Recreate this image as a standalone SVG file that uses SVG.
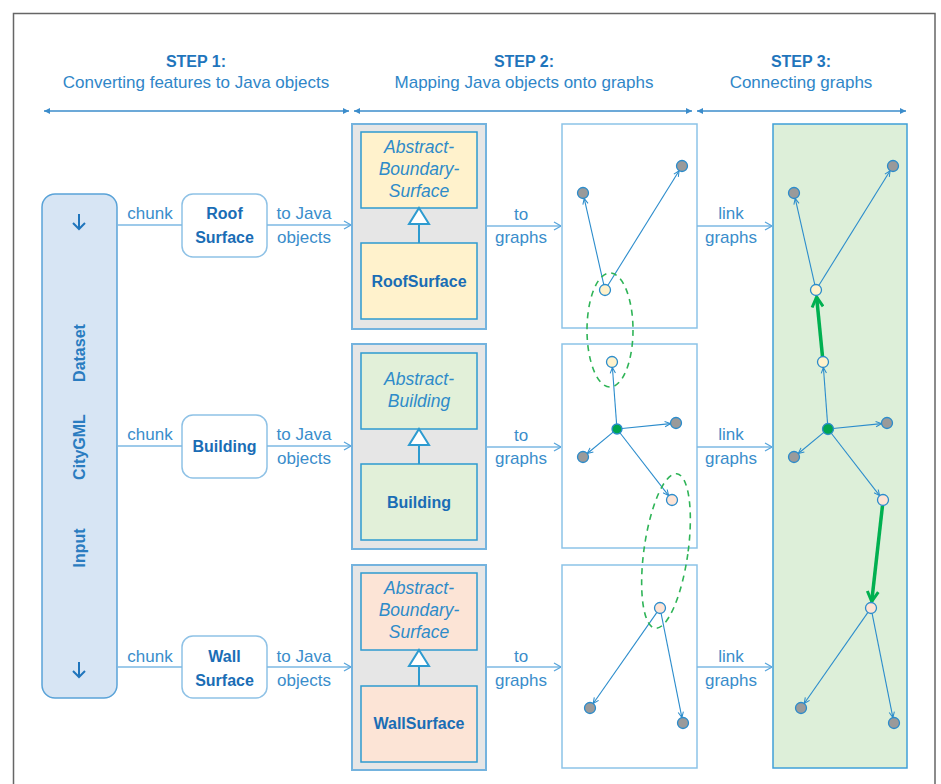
<svg xmlns="http://www.w3.org/2000/svg" width="941" height="784" viewBox="0 0 941 784">
  <style>
    text { font-family: "Liberation Sans", Arial, sans-serif; }
    .step { font-size: 16px; font-weight: bold; fill: #1f75bc; text-anchor: middle; }
    .sub { font-size: 17px; fill: #2f86c8; text-anchor: middle; }
    .lbl { font-size: 17px; fill: #3a8dcb; text-anchor: middle; }
    .feat { font-size: 16px; font-weight: bold; fill: #1a6db5; text-anchor: middle; }
    .abs { font-size: 17.5px; font-style: italic; fill: #2e8bc9; text-anchor: middle; }
    .cls { font-size: 16px; font-weight: bold; fill: #1a6db5; text-anchor: middle; }
    .inp { font-size: 16px; font-weight: bold; fill: #2a7cc0; text-anchor: middle; }
    .hdr { stroke: #3b8ccb; stroke-width: 1.5; fill: none; }
    .flow { stroke: #7cb9e3; stroke-width: 1.5; fill: none; }
    .fbox { fill: #ffffff; stroke: #8fc2e6; stroke-width: 1.5; }
    .cont { fill: #e6e6e6; stroke: #74b3de; stroke-width: 2; }
    .inner { stroke: #2e9bd0; stroke-width: 1.5; }
    .panel { fill: #ffffff; stroke: #8cc3e8; stroke-width: 1.5; }
    .edge { stroke: #2b8ccc; stroke-width: 1.1; fill: none; }
    .n { stroke: #2b8ccc; stroke-width: 1.3; }
    .gray { fill: #9a9a9a; }
    .yel { fill: #fff2cc; }
    .pch { fill: #fde4d6; }
    .grn { fill: #00a550; }
    .ell { fill: none; stroke: #2fb457; stroke-width: 1.6; stroke-dasharray: 6 5; }
    .glink { stroke: #00b050; stroke-width: 3.5; fill: none; }
  </style>
  <defs>
    <marker id="hdr" viewBox="0 0 6 6" refX="6" refY="3" markerWidth="6" markerHeight="6" markerUnits="userSpaceOnUse" orient="auto-start-reverse">
      <path d="M0,0 L6,3 L0,6 z" fill="#3b8ccb"/>
    </marker>
    <marker id="flow" viewBox="0 0 8 10" refX="8" refY="5" markerWidth="8" markerHeight="10" markerUnits="userSpaceOnUse" orient="auto">
      <path d="M1,1 L8,5 L1,9" fill="none" stroke="#5aa6dc" stroke-width="1.3"/>
    </marker>
    <marker id="edge" viewBox="0 0 8 8" refX="7.5" refY="4" markerWidth="7" markerHeight="7" markerUnits="userSpaceOnUse" orient="auto">
      <path d="M1,1 L7.5,4 L1,7" fill="none" stroke="#2b8ccc" stroke-width="1.2"/>
    </marker>
    <marker id="link" viewBox="0 0 14 14" refX="12" refY="7" markerWidth="14" markerHeight="14" markerUnits="userSpaceOnUse" orient="auto">
      <path d="M2,1.5 L12,7 L2,12.5" fill="none" stroke="#00b050" stroke-width="3"/>
    </marker>
  </defs>

  <rect width="941" height="784" fill="#ffffff"/>
  <!-- outer frame, open at the bottom -->
  <path d="M13.5,790 V13.5 H935 V790" fill="none" stroke="#666666" stroke-width="1.5"/>

  <!-- step headings -->
  <g id="step1-head">
    <text class="step" x="196" y="67">STEP 1:</text>
    <text class="sub" x="196" y="88">Converting features to Java objects</text>
    <line class="hdr" x1="44" y1="111" x2="349" y2="111" marker-start="url(#hdr)" marker-end="url(#hdr)"/>
  </g>
  <g id="step2-head">
    <text class="step" x="524" y="67">STEP 2:</text>
    <text class="sub" x="524" y="88">Mapping Java objects onto graphs</text>
    <line class="hdr" x1="354" y1="111" x2="692" y2="111" marker-start="url(#hdr)" marker-end="url(#hdr)"/>
  </g>
  <g id="step3-head">
    <text class="step" x="801" y="67">STEP 3:</text>
    <text class="sub" x="801" y="88">Connecting graphs</text>
    <line class="hdr" x1="697" y1="111" x2="906" y2="111" marker-start="url(#hdr)" marker-end="url(#hdr)"/>
  </g>

  <!-- input dataset column -->
  <g id="input">
    <rect x="42" y="194" width="75" height="504" rx="13" fill="#d7e5f4" stroke="#5aa3d8" stroke-width="1.5"/>
    <path d="M79,214 V229 M73,223 L79,229 L85,223" fill="none" stroke="#1f75bc" stroke-width="2"/>
    <path d="M79,662 V677 M73,671 L79,677 L85,671" fill="none" stroke="#1f75bc" stroke-width="2"/>
    <text class="inp" transform="translate(85,353) rotate(-90)" x="0" y="0">Dataset</text>
    <text class="inp" transform="translate(85,447) rotate(-90)" x="0" y="0">CityGML</text>
    <text class="inp" transform="translate(85,548) rotate(-90)" x="0" y="0">Input</text>
  </g>

  <!-- feature chunks -->
  <g id="roof-chunk">
    <rect class="fbox" x="182" y="194" width="85" height="63" rx="11"/>
    <text class="feat" x="224.5" y="219">Roof</text>
    <text class="feat" x="224.5" y="243">Surface</text>
  </g>
  <g id="building-chunk">
    <rect class="fbox" x="182" y="415" width="85" height="63" rx="11"/>
    <text class="feat" x="224.5" y="452">Building</text>
  </g>
  <g id="wall-chunk">
    <rect class="fbox" x="182" y="636" width="85" height="62" rx="11"/>
    <text class="feat" x="224.5" y="662">Wall</text>
    <text class="feat" x="224.5" y="686">Surface</text>
  </g>

  <!-- Java class hierarchies -->
  <g id="roof-classes">
    <rect class="cont" x="352" y="124" width="134" height="205"/>
    <rect class="inner" fill="#fff2cc" x="361" y="132" width="116" height="76"/>
    <rect class="inner" fill="#fff2cc" x="361" y="243" width="116" height="76"/>
    <line x1="419" y1="224" x2="419" y2="243" stroke="#2e9bd0" stroke-width="2"/>
    <path d="M419,208 L429,224 L409,224 z" fill="#ffffff" stroke="#2e9bd0" stroke-width="2"/>
    <text class="abs" x="419" y="153">Abstract-</text>
    <text class="abs" x="419" y="175">Boundary-</text>
    <text class="abs" x="419" y="197">Surface</text>
    <text class="cls" x="419" y="287">RoofSurface</text>
  </g>
  <g id="building-classes">
    <rect class="cont" x="352" y="344" width="134" height="205"/>
    <rect class="inner" fill="#e2f0d9" x="361" y="353" width="116" height="76"/>
    <rect class="inner" fill="#e2f0d9" x="361" y="464" width="116" height="76"/>
    <line x1="419" y1="445" x2="419" y2="464" stroke="#2e9bd0" stroke-width="2"/>
    <path d="M419,429 L429,445 L409,445 z" fill="#ffffff" stroke="#2e9bd0" stroke-width="2"/>
    <text class="abs" x="419" y="385">Abstract-</text>
    <text class="abs" x="419" y="407">Building</text>
    <text class="cls" x="419" y="508">Building</text>
  </g>
  <g id="wall-classes">
    <rect class="cont" x="352" y="565" width="134" height="205"/>
    <rect class="inner" fill="#fce4d6" x="361" y="573" width="116" height="77"/>
    <rect class="inner" fill="#fce4d6" x="361" y="686" width="116" height="76"/>
    <line x1="419" y1="666" x2="419" y2="686" stroke="#2e9bd0" stroke-width="2"/>
    <path d="M419,650 L429,666 L409,666 z" fill="#ffffff" stroke="#2e9bd0" stroke-width="2"/>
    <text class="abs" x="419" y="594">Abstract-</text>
    <text class="abs" x="419" y="616">Boundary-</text>
    <text class="abs" x="419" y="638">Surface</text>
    <text class="cls" x="419" y="729">WallSurface</text>
  </g>

  <!-- per-feature graph panels -->
  <g id="roof-graph">
    <rect class="panel" x="562" y="124" width="135" height="204"/>
  </g>
  <g id="building-graph">
    <rect class="panel" x="562" y="344" width="135" height="204"/>
  </g>
  <g id="wall-graph">
    <rect class="panel" x="562" y="565" width="135" height="203"/>
  </g>

  <!-- connected graph -->
  <g id="linked-graph">
    <rect x="773" y="124" width="134" height="644" fill="#ddefd9" stroke="#3fa0d8" stroke-width="1.5"/>
  </g>

  <!-- flow connectors between the stages -->
  <g id="connectors">
    <line class="flow" x1="117" y1="225" x2="182" y2="225"/>
    <line class="flow" x1="117" y1="446" x2="182" y2="446"/>
    <line class="flow" x1="117" y1="667" x2="182" y2="667"/>
    <line class="flow" x1="267" y1="225" x2="351" y2="225" marker-end="url(#flow)"/>
    <line class="flow" x1="267" y1="446" x2="351" y2="446" marker-end="url(#flow)"/>
    <line class="flow" x1="267" y1="667" x2="351" y2="667" marker-end="url(#flow)"/>
    <line class="flow" x1="486" y1="226" x2="561" y2="226" marker-end="url(#flow)"/>
    <line class="flow" x1="486" y1="447" x2="561" y2="447" marker-end="url(#flow)"/>
    <line class="flow" x1="486" y1="667" x2="561" y2="667" marker-end="url(#flow)"/>
    <line class="flow" x1="697" y1="226" x2="772" y2="226" marker-end="url(#flow)"/>
    <line class="flow" x1="697" y1="447" x2="772" y2="447" marker-end="url(#flow)"/>
    <line class="flow" x1="697" y1="667" x2="772" y2="667" marker-end="url(#flow)"/>

    <text class="lbl" x="150" y="219">chunk</text>
    <text class="lbl" x="150" y="440">chunk</text>
    <text class="lbl" x="150" y="662">chunk</text>
    <text class="lbl" x="304" y="219">to Java</text>
    <text class="lbl" x="304" y="243">objects</text>
    <text class="lbl" x="304" y="440">to Java</text>
    <text class="lbl" x="304" y="464">objects</text>
    <text class="lbl" x="304" y="662">to Java</text>
    <text class="lbl" x="304" y="686">objects</text>
    <text class="lbl" x="521" y="220">to</text>
    <text class="lbl" x="521" y="243">graphs</text>
    <text class="lbl" x="521" y="441">to</text>
    <text class="lbl" x="521" y="464">graphs</text>
    <text class="lbl" x="521" y="662">to</text>
    <text class="lbl" x="521" y="686">graphs</text>
    <text class="lbl" x="731" y="219">link</text>
    <text class="lbl" x="731" y="243">graphs</text>
    <text class="lbl" x="731" y="440">link</text>
    <text class="lbl" x="731" y="464">graphs</text>
    <text class="lbl" x="731" y="662">link</text>
    <text class="lbl" x="731" y="686">graphs</text>
  </g>

  <!-- graph edges and vertices in the separate panels -->
  <g id="panel-graphs">
    <line class="edge" x1="603.9" y1="285.1" x2="584.2" y2="198.4" marker-end="url(#edge)"/>
    <line class="edge" x1="607.6" y1="285.8" x2="679.1" y2="170.7" marker-end="url(#edge)"/>
    <line class="edge" x1="616.6" y1="424" x2="612.4" y2="367.5" marker-end="url(#edge)"/>
    <line class="edge" x1="622" y1="428.5" x2="670.5" y2="423.6" marker-end="url(#edge)"/>
    <line class="edge" x1="613.1" y1="432.2" x2="587.3" y2="453.5" marker-end="url(#edge)"/>
    <line class="edge" x1="620.1" y1="433" x2="668.6" y2="495.6" marker-end="url(#edge)"/>
    <line class="edge" x1="657.1" y1="612.1" x2="593.2" y2="703.5" marker-end="url(#edge)"/>
    <line class="edge" x1="661" y1="612.9" x2="681.9" y2="717.6" marker-end="url(#edge)"/>

    <circle class="n gray" cx="583" cy="193" r="5.5"/>
    <circle class="n gray" cx="682" cy="166" r="5.5"/>
    <circle class="n yel" cx="605" cy="290" r="5.5"/>
    <circle class="n yel" cx="612" cy="362" r="5.5"/>
    <circle class="n grn" cx="617" cy="429" r="5" stroke="#00a550"/>
    <circle class="n gray" cx="676" cy="423" r="5.5"/>
    <circle class="n gray" cx="583" cy="457" r="5.5"/>
    <circle class="n pch" cx="672" cy="500" r="5.5"/>
    <circle class="n pch" cx="660" cy="608" r="5.5"/>
    <circle class="n gray" cx="590" cy="708" r="5.5"/>
    <circle class="n gray" cx="683" cy="723" r="5.5"/>

    <!-- matching vertices across panels -->
    <ellipse class="ell" cx="610" cy="330" rx="23" ry="57"/>
    <ellipse class="ell" cx="666" cy="551" rx="22" ry="78" transform="rotate(8 666 551)"/>
  </g>

  <!-- the connected graph -->
  <g id="merged-graph" transform="translate(211,0)">
    <line class="edge" x1="603.9" y1="285.1" x2="584.2" y2="198.4" marker-end="url(#edge)" stroke-width="1.4"/>
    <line class="edge" x1="607.6" y1="285.8" x2="679.1" y2="170.7" marker-end="url(#edge)" stroke-width="1.4"/>
    <line class="edge" x1="616.6" y1="424" x2="612.4" y2="367.5" marker-end="url(#edge)" stroke-width="1.4"/>
    <line class="edge" x1="622" y1="428.5" x2="670.5" y2="423.6" marker-end="url(#edge)" stroke-width="1.4"/>
    <line class="edge" x1="613.1" y1="432.2" x2="587.3" y2="453.5" marker-end="url(#edge)" stroke-width="1.4"/>
    <line class="edge" x1="620.1" y1="433" x2="668.6" y2="495.6" marker-end="url(#edge)" stroke-width="1.4"/>
    <line class="edge" x1="657.1" y1="612.1" x2="593.2" y2="703.5" marker-end="url(#edge)" stroke-width="1.4"/>
    <line class="edge" x1="661" y1="612.9" x2="681.9" y2="717.6" marker-end="url(#edge)" stroke-width="1.4"/>

    <line class="glink" x1="611.5" y1="356.5" x2="605.6" y2="297" marker-end="url(#link)"/>
    <line class="glink" x1="671.5" y1="505.5" x2="660.7" y2="601.5" marker-end="url(#link)"/>

    <circle class="n gray" cx="583" cy="193" r="5.5"/>
    <circle class="n gray" cx="682" cy="166" r="5.5"/>
    <circle class="n yel" cx="605" cy="290" r="5.5"/>
    <circle class="n yel" cx="612" cy="362" r="5.5"/>
    <circle class="n grn" cx="617" cy="429" r="5.5" stroke="#00a550"/>
    <circle class="n gray" cx="676" cy="423" r="5.5"/>
    <circle class="n gray" cx="583" cy="457" r="5.5"/>
    <circle class="n pch" cx="672" cy="500" r="5.5"/>
    <circle class="n pch" cx="660" cy="608" r="5.5"/>
    <circle class="n gray" cx="590" cy="708" r="5.5"/>
    <circle class="n gray" cx="683" cy="723" r="5.5"/>
  </g>
</svg>
